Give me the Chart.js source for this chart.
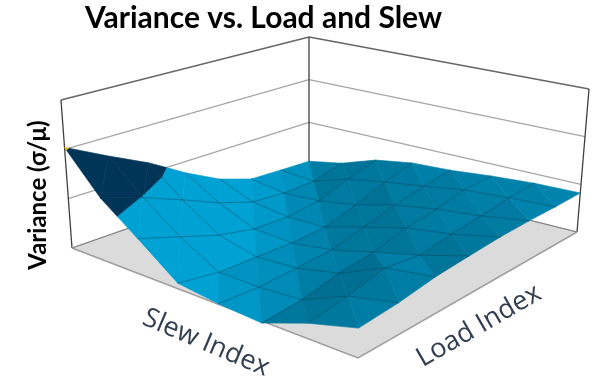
<!DOCTYPE html>
<html>
<head>
<meta charset="utf-8">
<style>body{margin:0;background:#fff}</style>
<script src="https://cdn.jsdelivr.net/npm/chart.js@4"></script>
</head>
<body>
<canvas id="chart" width="600" height="381"></canvas>
<script>
const loadIndex = [1, 2, 3, 4, 5, 6, 7, 8];
const slewIndex = [1, 2, 3, 4, 5, 6, 7, 8];
const varianceTicks = [0.1, 0.2, 0.3, 0.4];

// variance per load index, one list for each slew index
const slew1 = [0.304, 0.261, 0.222, 0.176, 0.138, 0.114, 0.111, 0.109];
const slew2 = [0.225, 0.198, 0.166, 0.133, 0.109, 0.103, 0.105, 0.123];
const slew3 = [0.170, 0.143, 0.117, 0.101, 0.099, 0.107, 0.130, 0.149];
const slew4 = [0.111, 0.099, 0.098, 0.096, 0.100, 0.120, 0.144, 0.162];
const slew5 = [0.101, 0.098, 0.102, 0.107, 0.124, 0.142, 0.156, 0.166];
const slew6 = [0.096, 0.103, 0.120, 0.129, 0.147, 0.157, 0.170, 0.174];
const slew7 = [0.129, 0.141, 0.159, 0.150, 0.160, 0.167, 0.176, 0.180];
const slew8 = [0.155, 0.161, 0.172, 0.177, 0.181, 0.182, 0.181, 0.182];
const variance = [slew1, slew2, slew3, slew4, slew5, slew6, slew7, slew8];

// the box as it sits on the page: left, front, right, back corner
const floorQuad = [[72, 248], [358, 358], [577, 232], [309, 165]];
const topQuad = [[61, 100], [361, 195], [589, 89], [309, 37]];

function quadMap(q) {
  const [p0, p1, p2, p3] = q;
  const dx1 = p1[0] - p2[0], dx2 = p3[0] - p2[0], sx = p0[0] - p1[0] + p2[0] - p3[0];
  const dy1 = p1[1] - p2[1], dy2 = p3[1] - p2[1], sy = p0[1] - p1[1] + p2[1] - p3[1];
  const den = dx1 * dy2 - dx2 * dy1;
  const g = (sx * dy2 - dx2 * sy) / den, h = (dx1 * sy - sx * dy1) / den;
  const a = p1[0] - p0[0] + g * p1[0], b = p3[0] - p0[0] + h * p3[0];
  const d = p1[1] - p0[1] + g * p1[1], e = p3[1] - p0[1] + h * p3[1];
  return (u, v) => {
    const k = g * u + h * v + 1;
    return [(a * u + b * v + p0[0]) / k, (d * u + e * v + p0[1]) / k];
  };
}

const floorAt = quadMap(floorQuad);
const topAt = quadMap(topQuad);
const zMin = varianceTicks[0];
const zMax = varianceTicks[varianceTicks.length - 1];

// u along slew, v along load (both 0..1), z is a variance value
function project(u, v, z) {
  const f = floorAt(u, v), t = topAt(u, v);
  const w = (z - zMin) / (zMax - zMin);
  return { x: f[0] + (t[0] - f[0]) * w, y: f[1] + (t[1] - f[1]) * w };
}

function shape(points, color, border) {
  return {
    data: points.concat(points[0]),
    showLine: true,
    fill: 'shape',
    backgroundColor: color,
    borderColor: border || color,
    borderWidth: 0.6,
    pointRadius: 0,
    tension: 0,
    clip: false
  };
}

function line(points, color, width) {
  return {
    data: points,
    showLine: true,
    fill: false,
    borderColor: color,
    borderWidth: width,
    pointRadius: 0,
    tension: 0,
    clip: false
  };
}

function mix(a, b, t) {
  return a.map((c, i) => Math.round(c + (b[i] - c) * t));
}

const BLUE_DARK = [0, 108, 142], BLUE_MID = [0, 131, 172], BLUE_LIGHT = [0, 161, 211];

// brighter when the facet falls away towards the front left, and nearer the left corner
function facetColor(dzds, dzdl, s, l) {
  const nearLeft = Math.max(0, 0.8 * (1 - (s + l) / 8));
  const t = Math.max(-1, Math.min(1, 0.1 + nearLeft - (25 * dzds + 12 * dzdl)));
  const rgb = t < 0 ? mix(BLUE_MID, BLUE_DARK, -t) : mix(BLUE_MID, BLUE_LIGHT, t);
  return `rgb(${rgb.join(',')})`;
}

// keep the part of a triangle that lies between two variance levels
function clipBand(tri, lo, hi) {
  const cut = (poly, keep, level) => {
    const out = [];
    poly.forEach((p, i) => {
      const q = poly[(i + 1) % poly.length];
      if (keep(p[2])) out.push(p);
      if (keep(p[2]) !== keep(q[2])) {
        const t = (level - p[2]) / (q[2] - p[2]);
        out.push([p[0] + (q[0] - p[0]) * t, p[1] + (q[1] - p[1]) * t, level]);
      }
    });
    return out;
  };
  let poly = cut(tri, (z) => z >= lo, lo);
  if (poly.length) poly = cut(poly, (z) => z <= hi, hi);
  return poly;
}

const datasets = [];
const nS = slewIndex.length - 1, nL = loadIndex.length - 1;

// walls
varianceTicks.slice(1).forEach((z, i) => {
  const isTop = i === varianceTicks.length - 2;
  const color = isTop ? '#666666' : '#a6a6a6';
  const width = isTop ? 1.3 : 1.2;
  datasets.push(line([project(0, 0, z), project(0, 1, z)], color, width));
  datasets.push(line([project(0, 1, z), project(1, 1, z)], color, width));
});
datasets.push(line([project(0, 0, zMin), project(0, 0, zMax)], '#3f3f3f', 1.3));
datasets.push(line([project(0, 1, zMin), project(0, 1, zMax)], '#3f3f3f', 1.3));
datasets.push(line([project(1, 1, zMin), project(1, 1, zMax)], '#3f3f3f', 1.3));

// floor
datasets.push(shape([project(0, 0, zMin), project(1, 0, zMin), project(1, 1, zMin), project(0, 1, zMin)], '#dbdbdb', '#a0a0a0'));
datasets.push(line([project(0, 0, zMin), project(1, 0, zMin), project(1, 1, zMin)], '#a0a0a0', 1.5));
datasets.push(line([project(0, 0, zMin), project(0, 1, zMin), project(1, 1, zMin)], '#7f7f7f', 1.2));

// surface facets, far ones first
for (let s = 0; s < nS; s++) {
  for (let l = nL - 1; l >= 0; l--) {
    const a = [s, l, variance[s][l]], b = [s, l + 1, variance[s][l + 1]];
    const c = [s + 1, l + 1, variance[s + 1][l + 1]], d = [s + 1, l, variance[s + 1][l]];
    const tris = [
      { pts: [a, b, d], dzds: d[2] - a[2], dzdl: b[2] - a[2] },
      { pts: [b, c, d], dzds: c[2] - b[2], dzdl: c[2] - d[2] }
    ];
    tris.forEach((t) => {
      const toXY = (p) => project(p[0] / nS, p[1] / nL, p[2]);
      const blue = clipBand(t.pts, -1, varianceTicks[1]);
      if (blue.length) datasets.push(shape(blue.map(toXY), facetColor(t.dzds, t.dzdl, s, l)));
      const navy = clipBand(t.pts, varianceTicks[1], varianceTicks[2]);
      if (navy.length) datasets.push(shape(navy.map(toXY), '#003557'));
      const gold = clipBand(t.pts, varianceTicks[2], 9);
      if (gold.length) datasets.push(shape(gold.map(toXY), '#f2b800'));
    });
  }
}

// mesh lines
variance.forEach((row, s) => {
  if (s === 0 || s === nS) return;
  datasets.push(line(row.map((z, l) => project(s / nS, l / nL, z)), 'rgba(0,45,70,0.42)', 0.9));
});
loadIndex.forEach((_, l) => {
  if (l === 0 || l === nL) return;
  datasets.push(line(variance.map((row, s) => project(s / nS, l / nL, row[l])), 'rgba(0,45,70,0.42)', 0.9));
});

const labelsPlugin = {
  id: 'labels',
  afterDatasetsDraw(chart) {
    const ctx = chart.ctx;
    const put = (text, x, y, angle, font, color) => {
      ctx.save();
      ctx.translate(x, y);
      ctx.rotate(angle * Math.PI / 180);
      ctx.font = font;
      ctx.fillStyle = color;
      ctx.textAlign = 'center';
      ctx.textBaseline = 'middle';
      ctx.fillText(text, 0, 0);
      ctx.restore();
    };
    put('Variance vs. Load and Slew', 263.5, 18, 0, 'bold 30px Lato', '#000000');
    put('Variance (σ/μ)', 38, 195, -90, 'bold 24px Lato', '#000000');
    put('Slew Index', 206, 343, 23, '27px "Open Sans"', '#333f50');
    put('Load Index', 479, 326, -30, '27px "Open Sans"', '#333f50');
  }
};

new Chart(document.getElementById('chart'), {
  type: 'scatter',
  data: { datasets: datasets.reverse() },
  plugins: [labelsPlugin],
  options: {
    responsive: false,
    animation: false,
    layout: { padding: 0 },
    plugins: { legend: { display: false }, tooltip: { enabled: false }, title: { display: false } },
    scales: {
      x: { type: 'linear', min: 0, max: 600, display: false },
      y: { type: 'linear', min: 0, max: 381, reverse: true, display: false }
    }
  }
});
</script>
</body>
</html>
